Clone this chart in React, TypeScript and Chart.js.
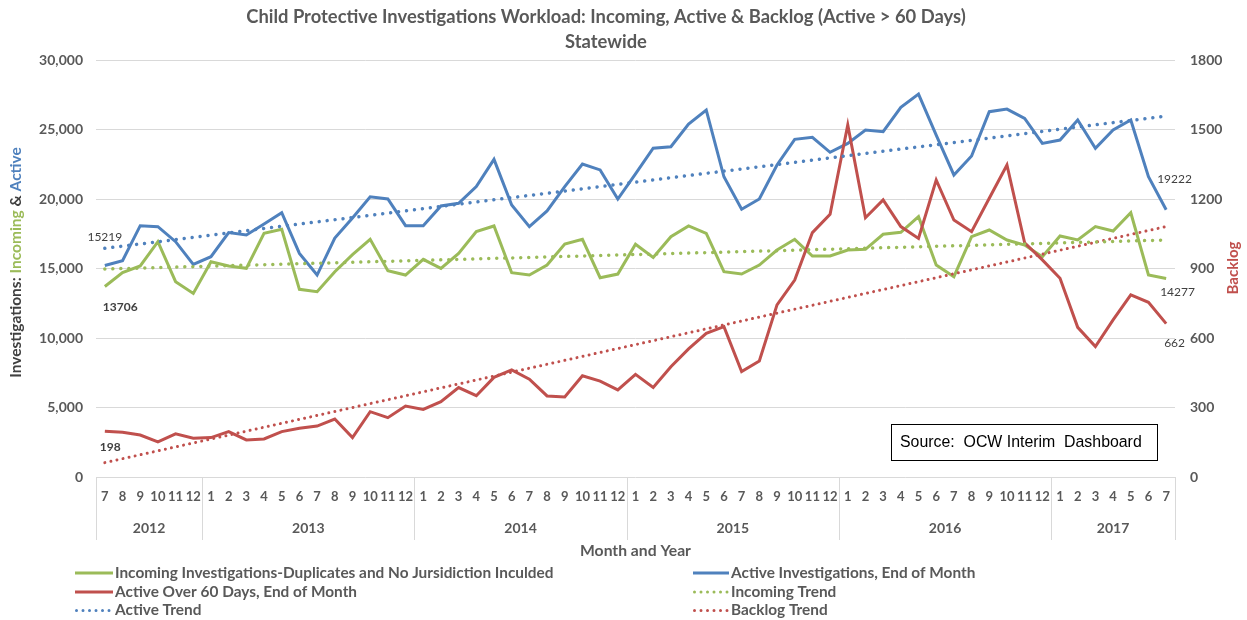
import React, { useEffect, useRef } from "react";
import { Chart, registerables } from "chart.js";
Chart.register(...registerables);

const W = 1247;
const H = 620;
const FONT = "Lato, 'Open Sans', sans-serif";

const GREEN = "#9BBB59";
const BLUE = "#4F81BD";
const RED = "#C0504D";
const GRAY = "#595959";
const DARK = "#404040";

const months2012 = ["7", "8", "9", "10", "11", "12"];
const monthsFull = ["1", "2", "3", "4", "5", "6", "7", "8", "9", "10", "11", "12"];
const months2017 = ["1", "2", "3", "4", "5", "6", "7"];
const monthLabels = [...months2012, ...monthsFull, ...monthsFull, ...monthsFull, ...monthsFull, ...months2017];
const yearLabels = ["2012", "2013", "2014", "2015", "2016", "2017"];
const yearMonthCounts = [6, 12, 12, 12, 12, 7];

const incoming = [
  13706, 14700, 15180, 16930, 14050, 13210,
  15490, 15180, 15010, 17530, 17820, 13500, 13330, 14770, 16000, 17100, 14840, 14530,
  15660, 15010, 16090, 17650, 18060, 14700, 14530, 15250, 16760, 17100, 14340, 14600,
  16740, 15800, 17290, 18060, 17530, 14770, 14600, 15250, 16330, 17100, 15900, 15900,
  16330, 16380, 17460, 17600, 18730, 15250, 14410, 17290, 17770, 17050, 16690, 15850,
  17340, 17050, 18010, 17700, 19010, 14530, 14277,
];
const active = [
  15219, 15560, 18080, 18010, 16930, 15300,
  15850, 17580, 17410, 18200, 19010, 16090, 14530, 17190, 18630, 20160, 20000, 18080,
  18080, 19500, 19690, 20890, 22850, 19570, 18010, 19140, 20890, 22520, 22090, 20000,
  21800, 23650, 23760, 25390, 26400, 21600, 19260, 20000, 22450, 24290, 24440, 23360,
  24000, 24960, 24840, 26600, 27550, 24600, 21730, 23090, 26280, 26470, 25800, 24000,
  24240, 25680, 23650, 24960, 25680, 21600, 19222,
];
const backlog = [
  198, 193, 181, 152, 186, 167,
  170, 196, 160, 164, 196, 210, 220, 250, 170, 282, 256, 306,
  292, 325, 386, 351, 430, 462, 422, 350, 345, 437, 414, 376,
  443, 386, 476, 553, 620, 649, 455, 501, 743, 850, 1055, 1134,
  1520, 1119, 1196, 1081, 1030, 1282, 1109, 1059, 1203, 1347, 1011, 937,
  858, 646, 563, 678, 786, 754, 662,
];
const activeTrendEnds = [16450, 25970];
const incomingTrendEnds = [14960, 17050];
const backlogTrendEnds = [62, 1081];

function trendSeries(ends: number[]) {
  return monthLabels.map((_, i) => (i === 0 ? ends[0] : i === monthLabels.length - 1 ? ends[1] : null));
}

function fitFont(ctx: CanvasRenderingContext2D, text: string, weight: string, family: string, target: number, base: number) {
  ctx.font = `${weight} ${base}px ${family}`;
  const w = ctx.measureText(text).width;
  let size = (base * target) / w;
  size = Math.max(base * 0.75, Math.min(base * 1.3, size));
  ctx.font = `${weight} ${size}px ${family}`;
  return size;
}

const pointLabels = [
  { series: active, index: 0, dx: 0, dy: -28, align: "center", bold: false },
  { series: incoming, index: 0, dx: -2, dy: 21, align: "left", bold: true },
  { series: backlog, index: 0, dx: -5, dy: 16, align: "left", bold: true, right: true },
  { series: active, index: 60, dx: -9, dy: -31, align: "left", bold: false },
  { series: incoming, index: 60, dx: -6, dy: 14, align: "left", bold: false },
  { series: backlog, index: 60, dx: -2, dy: 19, align: "left", bold: false, right: true },
];

const legendItems = [
  { text: "Incoming Investigations-Duplicates and No Jursidiction Inculded", color: GREEN, dotted: false, col: 0, row: 0 },
  { text: "Active Investigations, End of Month", color: BLUE, dotted: false, col: 1, row: 0 },
  { text: "Active Over 60 Days, End of Month", color: RED, dotted: false, col: 0, row: 1 },
  { text: "Incoming Trend", color: GREEN, dotted: true, col: 1, row: 1 },
  { text: "Active Trend", color: BLUE, dotted: true, col: 0, row: 2 },
  { text: "Backlog Trend", color: RED, dotted: true, col: 1, row: 2 },
];

const overlay = {
  id: "overlay",
  afterDraw(chart: any) {
    const ctx: CanvasRenderingContext2D = chart.ctx;
    const ca = chart.chartArea;
    const xs = chart.scales.x;
    const ys = chart.scales.y;
    const ys1 = chart.scales.y1;
    ctx.save();

    // Title
    const t1 = "Child Protective Investigations Workload: Incoming, Active & Backlog (Active > 60 Days)";
    ctx.fillStyle = GRAY;
    ctx.textAlign = "center";
    ctx.textBaseline = "middle";
    const ts = fitFont(ctx, t1, "bold", FONT, 720, 17);
    ctx.fillText(t1, 606, 17);
    ctx.font = `bold ${ts}px ${FONT}`;
    ctx.fillText("Statewide", 606, 42);

    // Left axis title (multi-coloured)
    const segs: [string, string][] = [
      ["Investigations: ", DARK],
      ["Incoming", GREEN],
      [" & ", DARK],
      ["Active", BLUE],
    ];
    const full = segs.map((s) => s[0]).join("");
    fitFont(ctx, full, "bold", FONT, 231, 14);
    const tw = ctx.measureText(full).width;
    ctx.save();
    ctx.translate(16, 262.5);
    ctx.rotate(-Math.PI / 2);
    ctx.textAlign = "left";
    let x0 = -tw / 2;
    for (const [s, c] of segs) {
      ctx.fillStyle = c;
      ctx.fillText(s, x0, 0);
      x0 += ctx.measureText(s).width;
    }
    ctx.restore();

    // Right axis title
    ctx.save();
    ctx.translate(1233, 268);
    ctx.rotate(-Math.PI / 2);
    ctx.textAlign = "center";
    ctx.fillStyle = RED;
    fitFont(ctx, "Backlog", "bold", FONT, 53, 14);
    ctx.fillText("Backlog", 0, 0);
    ctx.restore();

    // Year group separators and labels
    const bounds: number[] = [ca.left];
    let cum = 0;
    for (let g = 0; g < yearMonthCounts.length; g++) {
      cum += yearMonthCounts[g];
      if (g < yearMonthCounts.length - 1) {
        bounds.push((xs.getPixelForValue(cum - 1) + xs.getPixelForValue(cum)) / 2);
      } else {
        bounds.push(ca.right);
      }
    }
    ctx.strokeStyle = "#D9D9D9";
    ctx.lineWidth = 1;
    for (const b of bounds) {
      const bx = Math.round(b) + 0.5;
      ctx.beginPath();
      ctx.moveTo(bx, ca.bottom);
      ctx.lineTo(bx, 540);
      ctx.stroke();
    }
    ctx.fillStyle = GRAY;
    ctx.textAlign = "center";
    ctx.font = `bold 14px ${FONT}`;
    for (let g = 0; g < yearLabels.length; g++) {
      ctx.fillText(yearLabels[g], (bounds[g] + bounds[g + 1]) / 2, 528);
    }

    // X-axis title
    fitFont(ctx, "Month and Year", "bold", FONT, 111, 14);
    ctx.fillText("Month and Year", (ca.left + ca.right) / 2, 551);

    // Legend
    const legendFont = fitFont(ctx, legendItems[0].text, "bold", FONT, 439, 14);
    const colLine = [
      [75, 113],
      [693, 729],
    ];
    const rowY = [573, 592, 610.5];
    for (const it of legendItems) {
      const [lx0, lx1] = colLine[it.col];
      const ly = rowY[it.row];
      ctx.save();
      ctx.strokeStyle = it.color;
      if (it.dotted) {
        ctx.lineWidth = 3;
        ctx.lineCap = "round";
        ctx.setLineDash([0.001, 6.5]);
      } else {
        ctx.lineWidth = 3;
        ctx.lineCap = "butt";
        ctx.setLineDash([]);
      }
      ctx.beginPath();
      ctx.moveTo(lx0 + (it.dotted ? 1.5 : 0), ly);
      ctx.lineTo(lx1, ly);
      ctx.stroke();
      ctx.restore();
      ctx.fillStyle = GRAY;
      ctx.textAlign = "left";
      ctx.font = `bold ${legendFont}px ${FONT}`;
      ctx.fillText(it.text, lx1 + 2, ly);
    }

    // Source box
    ctx.fillStyle = "#FFFFFF";
    ctx.fillRect(891, 424, 266, 36);
    ctx.strokeStyle = "#000000";
    ctx.lineWidth = 1;
    ctx.strokeRect(891.5, 424.5, 266, 36);
    ctx.fillStyle = "#000000";
    ctx.textAlign = "left";
    const src = "Source:  OCW Interim  Dashboard";
    fitFont(ctx, src, "normal", "'Liberation Sans', Arial, sans-serif", 242, 16);
    ctx.fillText(src, 900, 442.5);

    // Point labels
    for (const pl of pointLabels) {
      const px = xs.getPixelForValue(pl.index);
      const py = (pl.right ? ys1 : ys).getPixelForValue(pl.series[pl.index]);
      ctx.fillStyle = DARK;
      ctx.textAlign = pl.align as CanvasTextAlign;
      ctx.font = `${pl.bold ? "bold" : "normal"} 12px ${FONT}`;
      ctx.fillText(String(pl.series[pl.index]), px + pl.dx, py + pl.dy);
    }

    ctx.restore();
  },
};

export default function App() {
  const ref = useRef<HTMLCanvasElement>(null);
  useEffect(() => {
    if (!ref.current) return;
    const lineBase = { pointRadius: 0, pointHoverRadius: 0, borderWidth: 3, tension: 0, fill: false };
    const chart = new Chart(ref.current, {
      type: "line",
      data: {
        labels: monthLabels,
        datasets: [
          { label: "Active Trend", data: trendSeries(activeTrendEnds), borderColor: BLUE, yAxisID: "y", spanGaps: true, pointRadius: 0, borderWidth: 3.5, borderDash: [0.001, 8], borderCapStyle: "round", order: 0 },
          { label: "Incoming Trend", data: trendSeries(incomingTrendEnds), borderColor: GREEN, yAxisID: "y", spanGaps: true, pointRadius: 0, borderWidth: 3.5, borderDash: [0.001, 8], borderCapStyle: "round", order: 0 },
          { label: "Backlog Trend", data: trendSeries(backlogTrendEnds), borderColor: RED, yAxisID: "y1", spanGaps: true, pointRadius: 0, borderWidth: 3, borderDash: [0.001, 6.2], borderCapStyle: "round", order: 0 },
          { label: "Active Over 60 Days, End of Month", data: backlog, borderColor: RED, yAxisID: "y1", ...lineBase, order: 1 },
          { label: "Active Investigations, End of Month", data: active, borderColor: BLUE, yAxisID: "y", ...lineBase, order: 2 },
          { label: "Incoming Investigations-Duplicates and No Jursidiction Inculded", data: incoming, borderColor: GREEN, yAxisID: "y", ...lineBase, order: 2 },
        ],
      } as any,
      options: {
        responsive: false,
        animation: false,
        events: [],
        layout: { padding: { top: 60, left: 0, right: 0, bottom: 0 } },
        plugins: { legend: { display: false }, title: { display: false }, tooltip: { enabled: false } },
        scales: {
          x: {
            type: "category",
            offset: true,
            grid: { display: false },
            border: { display: false },
            ticks: {
              autoSkip: false,
              maxRotation: 0,
              minRotation: 0,
              padding: 4,
              color: GRAY,
              font: { family: FONT, size: 13, weight: "bold" },
            },
            afterFit: (s: any) => {
              s.height = H - 477;
            },
          },
          y: {
            position: "left",
            min: 0,
            max: 30000,
            grid: { color: "#D9D9D9", drawTicks: false, lineWidth: 1 },
            border: { display: false },
            ticks: {
              stepSize: 5000,
              padding: 13,
              color: GRAY,
              font: { family: FONT, size: 14, weight: "bold" },
              callback: (v: any) => Number(v).toLocaleString("en-US"),
            },
            afterFit: (s: any) => {
              s.width = 96;
            },
          },
          y1: {
            position: "right",
            min: 0,
            max: 1800,
            grid: { display: false, drawTicks: false },
            border: { display: false },
            ticks: {
              stepSize: 300,
              padding: 15,
              color: GRAY,
              font: { family: FONT, size: 14, weight: "bold" },
              callback: (v: any) => String(v),
            },
            afterFit: (s: any) => {
              s.width = W - 1175;
            },
          },
        },
      } as any,
      plugins: [overlay],
    });
    return () => chart.destroy();
  }, []);
  return (
    <div style={{ position: "absolute", left: 0, top: 0, width: W, height: H, overflow: "hidden" }}>
      <canvas ref={ref} width={W} height={H} style={{ display: "block", width: W, height: H }} />
    </div>
  );
}
